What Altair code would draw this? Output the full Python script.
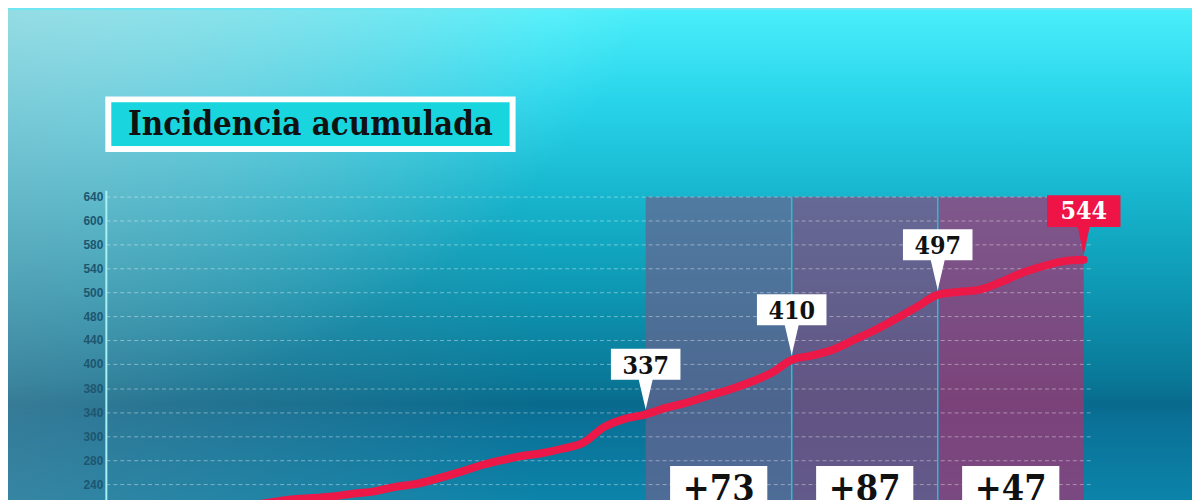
import altair as alt
import pandas as pd

# ---------------- data ----------------
days = list(range(7, 48))
values = [215, 219, 223, 225, 227, 231, 234, 240, 244, 251, 259, 268, 275, 281,
          285, 291, 299, 320, 331, 337, 346, 353, 362, 370, 380, 392, 410, 416,
          424, 437, 450, 465, 481, 497, 501, 504, 514, 526, 535, 542, 544]

week_marks = [26, 33, 40, 47]          # days with a callout
band_fills = ["#69628e", "#87487e", "#ab3070"]

grid_values = [243, 275, 307, 339, 371, 404, 436, 468, 500, 532, 564, 596, 628]
grid_labels = ["240", "280", "300", "340", "380", "400", "440", "480", "500",
               "540", "580", "600", "640"]

title_text = ["Incidencia acumulada"]

SERIF = "DejaVu Serif Condensed, DejaVu Serif"

# ---------------- frames ----------------
series = pd.DataFrame({"day": days, "value": values})
vals_at = {d: v for d, v in zip(days, values)}
callouts = pd.DataFrame({"day": week_marks,
                         "value": [vals_at[d] for d in week_marks],
                         "label": [str(vals_at[d]) for d in week_marks],
                         "last": [d == week_marks[-1] for d in week_marks]})
bands = pd.DataFrame({"start": week_marks[:-1], "end": week_marks[1:],
                      "fill": band_fills})
bands["mid"] = (bands["start"] + bands["end"]) / 2
bands["inc"] = ["+" + str(vals_at[e] - vals_at[s]) for s, e in zip(bands["start"], bands["end"])]
seps = pd.DataFrame({"day": week_marks[1:-1]})
grid = pd.DataFrame({"g": grid_values, "lab": grid_labels})
one = pd.DataFrame({"t": title_text})

W, H = 991, 400
x_scale = alt.Scale(domain=[0.143, 47.333], nice=False, zero=False)
y_scale = alt.Scale(domain=[96.5, 628.5], nice=False, zero=False)


def X(f):
    return alt.X(f, type="quantitative", scale=x_scale, axis=None)


def Y(f):
    return alt.Y(f, type="quantitative", scale=y_scale, axis=None)


# ---------------- background ----------------
full = dict(x=alt.value(-99), x2=alt.value(W + 102), y=alt.value(-188), y2=alt.value(H))
bg = alt.Chart(one).mark_rect(
    fill=alt.LinearGradient(
        gradient="linear", x1=0, x2=0, y1=0, y2=1,
        stops=[alt.GradientStop(offset=0.0, color="#4aeefa"),
               alt.GradientStop(offset=0.156, color="#28d4ea"),
               alt.GradientStop(offset=0.327, color="#16b4cc"),
               alt.GradientStop(offset=0.497, color="#0d94b0"),
               alt.GradientStop(offset=0.633, color="#0a7898"),
               alt.GradientStop(offset=0.675, color="#086a8c"),
               alt.GradientStop(offset=0.70, color="#0a7096"),
               alt.GradientStop(offset=0.77, color="#0b7aa0"),
               alt.GradientStop(offset=0.84, color="#0c84aa"),
               alt.GradientStop(offset=1.0, color="#0c84aa")])
).encode(**full)

ov_left = alt.Chart(one).mark_rect(
    fill=alt.LinearGradient(
        gradient="linear", x1=0, x2=1, y1=0, y2=0,
        stops=[alt.GradientStop(offset=0.0, color="rgba(95,135,155,0.5)"),
               alt.GradientStop(offset=0.45, color="rgba(95,135,155,0)"),
               alt.GradientStop(offset=1.0, color="rgba(95,135,155,0)")])
).encode(**full)

ov_glow = alt.Chart(one).mark_rect(
    fill=alt.RadialGradient(
        gradient="radial", x1=0, y1=0, r1=0, x2=0, y2=0, r2=0.6,
        stops=[alt.GradientStop(offset=0.0, color="rgba(215,255,255,0.85)"),
               alt.GradientStop(offset=1.0, color="rgba(215,255,255,0)")])
).encode(**full)

# ---------------- weekly bands ----------------
band_rects = alt.Chart(bands).mark_rect(opacity=0.7).encode(
    x=X("start"), x2="end", y=alt.value(0), y2=alt.value(H),
    color=alt.Color("fill:N", scale=None))

grid_rules = alt.Chart(grid).mark_rule(
    color="white", opacity=0.4, strokeWidth=1, strokeDash=[4, 3]
).encode(y=Y("g"))

grid_text = alt.Chart(grid).mark_text(
    align="right", baseline="middle", fontSize=12, fontWeight="bold",
    font="Liberation Sans", color="#1e5670"
).encode(x=alt.value(-3), y=Y("g"), text="lab:N")

domain_rule = alt.Chart(one).mark_rule(color="#a8f0f4", strokeWidth=2).encode(
    x=alt.value(0), y=alt.value(-6), y2=alt.value(H))

sep_rules = alt.Chart(seps).mark_rule(color="#1cc4da", strokeWidth=1.5).encode(x=X("day"))

# ---------------- line ----------------
line = alt.Chart(series).mark_line(
    color="#ec1848", strokeWidth=8, strokeCap="round", strokeJoin="round",
    interpolate="monotone"
).encode(x=X("day"), y=Y("value"))

# ---------------- callouts ----------------
call_white = alt.Chart(callouts).transform_filter("!datum.last").mark_point(
    shape="M-35,-66H35V-35H7L0,-5L-7,-35H-35Z", size=4, filled=True,
    color="white", fill="white", opacity=1, strokeWidth=0
).encode(x=X("day"), y=Y("value"))
call_red = alt.Chart(callouts).transform_filter("datum.last").mark_point(
    shape="M-37,-65H37V-33H6L0,-5L-6,-33H-37Z", size=4, filled=True,
    color="#ee1445", fill="#ee1445", opacity=1, strokeWidth=0
).encode(x=X("day"), y=Y("value"))
call_text = alt.Chart(callouts).mark_text(
    dy=-41, baseline="alphabetic", align="center", fontSize=25,
    font=SERIF, fontWeight="bold"
).encode(x=X("day"), y=Y("value"), text="label:N",
         color=alt.condition("datum.last", alt.value("white"), alt.value("#111111")))

# ---------------- bottom increments ----------------
inc_boxes = alt.Chart(bands).transform_calculate(
    a="datum.mid - 2.33", b="datum.mid + 2.33"
).mark_rect(color="white").encode(x=X("a:Q"), x2="b:Q", y=alt.value(271), y2=alt.value(H))
inc_text = alt.Chart(bands).mark_text(
    baseline="alphabetic", align="center", fontSize=36, font=SERIF,
    fontWeight="bold", color="#111111"
).encode(x=X("mid"), y=alt.value(305), text="inc:N")

# ---------------- title box ----------------
title_box = alt.Chart(one).mark_rect(fill="#19d5dd", stroke="white", strokeWidth=6).encode(
    x=alt.value(2), x2=alt.value(409), y=alt.value(-98), y2=alt.value(-48))
title = alt.Chart(one).mark_text(
    align="center", baseline="alphabetic", fontSize=33, font=SERIF,
    fontWeight="bold", color="#111111"
).encode(x=alt.value(205.5), y=alt.value(-62), text="t:N")

chart = alt.layer(
    bg, ov_left, ov_glow, band_rects, grid_rules, sep_rules, domain_rule, grid_text,
    line, call_white, call_red, call_text, inc_boxes, inc_text, title_box, title
).properties(
    width=W, height=H,
    padding={"left": 99, "top": 188, "right": 102, "bottom": 0},
    autosize=alt.AutoSizeParams(type="none"),
    background="#6fe6f2",
).configure_view(strokeWidth=0)

chart.save("out.html", embed_options={"renderer": "svg", "actions": False})
